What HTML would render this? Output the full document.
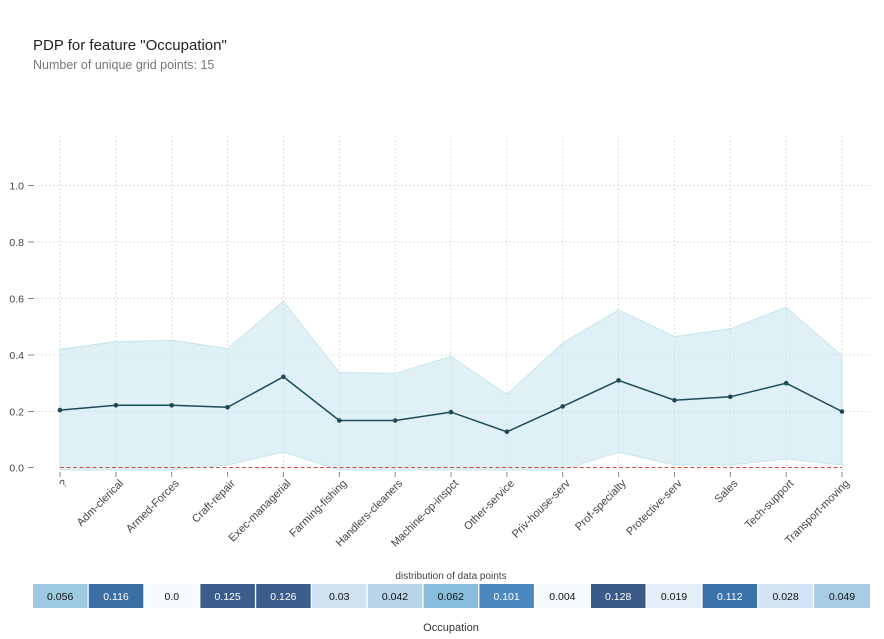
<!DOCTYPE html><html><head><meta charset="utf-8"><style>body{margin:0;background:#fff}svg{display:block;font-family:"Liberation Sans","DejaVu Sans",sans-serif}</style></head><body>
<svg width="884" height="639" viewBox="0 0 884 639" xmlns="http://www.w3.org/2000/svg">
<text x="33" y="50" font-size="15" fill="#222">PDP for feature "Occupation"</text>
<text x="33" y="69" font-size="12.5" fill="#777">Number of unique grid points: 15</text>
<g stroke="#d8d8d8" stroke-width="0.8" stroke-dasharray="2,2">
<line x1="33" x2="870" y1="185.5" y2="185.5"/><line x1="33" x2="870" y1="242" y2="242"/><line x1="33" x2="870" y1="298.5" y2="298.5"/><line x1="33" x2="870" y1="355" y2="355"/><line x1="33" x2="870" y1="411.5" y2="411.5"/>
<line x1="60" x2="60" y1="136" y2="470"/><line x1="115.9" x2="115.9" y1="136" y2="470"/><line x1="171.7" x2="171.7" y1="136" y2="470"/><line x1="227.6" x2="227.6" y1="136" y2="470"/><line x1="283.4" x2="283.4" y1="136" y2="470"/><line x1="339.3" x2="339.3" y1="136" y2="470"/><line x1="395.2" x2="395.2" y1="136" y2="470"/><line x1="451" x2="451" y1="136" y2="470"/><line x1="506.9" x2="506.9" y1="136" y2="470"/><line x1="562.7" x2="562.7" y1="136" y2="470"/><line x1="618.6" x2="618.6" y1="136" y2="470"/><line x1="674.5" x2="674.5" y1="136" y2="470"/><line x1="730.3" x2="730.3" y1="136" y2="470"/><line x1="786.2" x2="786.2" y1="136" y2="470"/><line x1="842" x2="842" y1="136" y2="470"/>
</g>
<polygon fill="#c4e6ef" fill-opacity="0.55" stroke="#bfe0ea" stroke-width="0.8" points="60,349.3 115.9,341.7 171.7,340.3 227.6,348.5 283.4,301.3 339.3,372.5 395.2,373.4 451,356.4 506.9,394.5 562.7,342.9 618.6,309.8 674.5,336.6 730.3,328.7 786.2,307.5 842,355.8 842,465 786.2,459 730.3,465 674.5,465 618.6,452 562.7,470 506.9,470 451,470 395.2,470 339.3,470 283.4,452 227.6,465 171.7,470 115.9,470 60,470"/>
<line x1="60" x2="842" y1="467.5" y2="467.5" stroke="#d0533a" stroke-width="1" stroke-dasharray="4,2.5"/>
<polyline fill="none" stroke="#1a4a5a" stroke-width="1.5" points="60,410.1 115.9,405.3 171.7,405.3 227.6,407.3 283.4,376.8 339.3,420.5 395.2,420.5 451,412.1 506.9,431.8 562.7,406.4 618.6,380.4 674.5,400.2 730.3,396.8 786.2,383.2 842,411.5"/>
<g fill="#1a4a5a"><circle cx="60" cy="410.1" r="2.3"/><circle cx="115.9" cy="405.3" r="2.3"/><circle cx="171.7" cy="405.3" r="2.3"/><circle cx="227.6" cy="407.3" r="2.3"/><circle cx="283.4" cy="376.8" r="2.3"/><circle cx="339.3" cy="420.5" r="2.3"/><circle cx="395.2" cy="420.5" r="2.3"/><circle cx="451" cy="412.1" r="2.3"/><circle cx="506.9" cy="431.8" r="2.3"/><circle cx="562.7" cy="406.4" r="2.3"/><circle cx="618.6" cy="380.4" r="2.3"/><circle cx="674.5" cy="400.2" r="2.3"/><circle cx="730.3" cy="396.8" r="2.3"/><circle cx="786.2" cy="383.2" r="2.3"/><circle cx="842" cy="411.5" r="2.3"/></g>
<g stroke="#888" stroke-width="1"><line x1="28" x2="34" y1="185.5" y2="185.5"/><line x1="28" x2="34" y1="242" y2="242"/><line x1="28" x2="34" y1="298.5" y2="298.5"/><line x1="28" x2="34" y1="355" y2="355"/><line x1="28" x2="34" y1="411.5" y2="411.5"/><line x1="28" x2="34" y1="467.5" y2="467.5"/>
<g transform="translate(0,472)"><line x1="60" x2="60" y1="0" y2="5"/><line x1="115.9" x2="115.9" y1="0" y2="5"/><line x1="171.7" x2="171.7" y1="0" y2="5"/><line x1="227.6" x2="227.6" y1="0" y2="5"/><line x1="283.4" x2="283.4" y1="0" y2="5"/><line x1="339.3" x2="339.3" y1="0" y2="5"/><line x1="395.2" x2="395.2" y1="0" y2="5"/><line x1="451" x2="451" y1="0" y2="5"/><line x1="506.9" x2="506.9" y1="0" y2="5"/><line x1="562.7" x2="562.7" y1="0" y2="5"/><line x1="618.6" x2="618.6" y1="0" y2="5"/><line x1="674.5" x2="674.5" y1="0" y2="5"/><line x1="730.3" x2="730.3" y1="0" y2="5"/><line x1="786.2" x2="786.2" y1="0" y2="5"/><line x1="842" x2="842" y1="0" y2="5"/></g></g>
<g font-size="10.5" fill="#444" text-anchor="end"><text x="24" y="189.5">1.0</text><text x="24" y="246">0.8</text><text x="24" y="302.5">0.6</text><text x="24" y="359">0.4</text><text x="24" y="415.5">0.2</text><text x="24" y="471.5">0.0</text></g>
<g font-size="11" fill="#444" text-anchor="end">
<text transform="translate(68,484) rotate(-45)">?</text>
<text transform="translate(123.9,484) rotate(-45)">Adm-clerical</text>
<text transform="translate(179.7,484) rotate(-45)">Armed-Forces</text>
<text transform="translate(235.6,484) rotate(-45)">Craft-repair</text>
<text transform="translate(291.4,484) rotate(-45)">Exec-managerial</text>
<text transform="translate(347.3,484) rotate(-45)">Farming-fishing</text>
<text transform="translate(403.2,484) rotate(-45)">Handlers-cleaners</text>
<text transform="translate(459,484) rotate(-45)">Machine-op-inspct</text>
<text transform="translate(514.9,484) rotate(-45)">Other-service</text>
<text transform="translate(570.7,484) rotate(-45)">Priv-house-serv</text>
<text transform="translate(626.6,484) rotate(-45)">Prof-specialty</text>
<text transform="translate(682.5,484) rotate(-45)">Protective-serv</text>
<text transform="translate(738.3,484) rotate(-45)">Sales</text>
<text transform="translate(794.2,484) rotate(-45)">Tech-support</text>
<text transform="translate(850,484) rotate(-45)">Transport-moving</text>
</g>
<text x="451" y="579" font-size="10" fill="#444" text-anchor="middle">distribution of data points</text>
<g>
<rect x="33" y="584" width="54.5" height="24" fill="#9ecae1"/>
<rect x="88.8" y="584" width="54.5" height="24" fill="#3a6ea5"/>
<rect x="144.6" y="584" width="54.5" height="24" fill="#f7fbff"/>
<rect x="200.4" y="584" width="54.5" height="24" fill="#3a5d8c"/>
<rect x="256.2" y="584" width="54.5" height="24" fill="#3a5d8c"/>
<rect x="312" y="584" width="54.5" height="24" fill="#d0e1f2"/>
<rect x="367.8" y="584" width="54.5" height="24" fill="#b7d4ea"/>
<rect x="423.6" y="584" width="54.5" height="24" fill="#88bedc"/>
<rect x="479.4" y="584" width="54.5" height="24" fill="#4a89c0"/>
<rect x="535.2" y="584" width="54.5" height="24" fill="#f5f9fe"/>
<rect x="591" y="584" width="54.5" height="24" fill="#3a5a88"/>
<rect x="646.8" y="584" width="54.5" height="24" fill="#e3eef8"/>
<rect x="702.6" y="584" width="54.5" height="24" fill="#3a73ac"/>
<rect x="758.4" y="584" width="54.5" height="24" fill="#d2e3f3"/>
<rect x="814.2" y="584" width="55.8" height="24" fill="#a6cde3"/>
</g>
<g font-size="10.5" text-anchor="middle" fill="#111">
<text x="60.2" y="600">0.056</text><text x="116" y="600" fill="#fff">0.116</text><text x="171.8" y="600">0.0</text><text x="227.6" y="600" fill="#fff">0.125</text><text x="283.4" y="600" fill="#fff">0.126</text><text x="339.2" y="600">0.03</text><text x="395" y="600">0.042</text><text x="450.8" y="600">0.062</text><text x="506.6" y="600" fill="#fff">0.101</text><text x="562.4" y="600">0.004</text><text x="618.2" y="600" fill="#fff">0.128</text><text x="674" y="600">0.019</text><text x="729.8" y="600" fill="#fff">0.112</text><text x="785.6" y="600">0.028</text><text x="842" y="600">0.049</text>
</g>
<text x="451" y="631" font-size="11" fill="#333" text-anchor="middle">Occupation</text>
</svg>
</body></html>
